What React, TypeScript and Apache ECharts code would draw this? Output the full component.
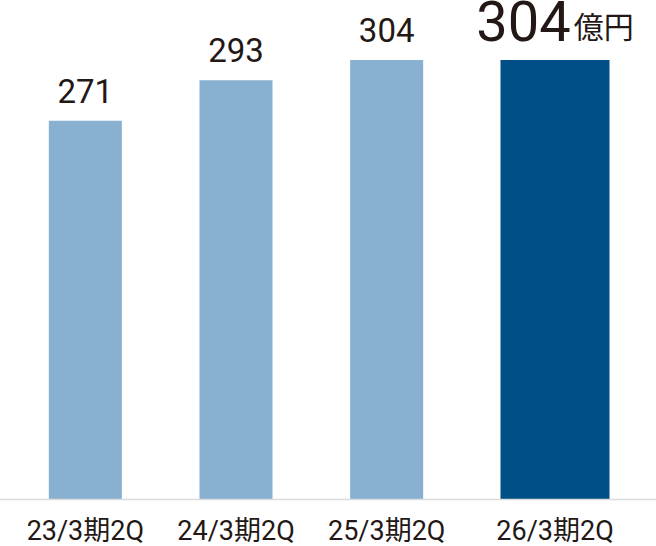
import * as echarts from "echarts";
import { useEffect, useRef } from "react";

const pastCategories = ["23/3期2Q", "24/3期2Q", "25/3期2Q"];
const pastValues = [271, 293, 304];
const currentCategories = ["26/3期2Q"];
const currentValues = [304];
const unitLabel = "億円";

const FONT = "Roboto, 'Noto Sans CJK JP', sans-serif";
const TEXT_COLOR = "#231815";

const App = () => {
  const chartRef = useRef<HTMLDivElement>(null);

  useEffect(() => {
    document.body.style.margin = "0";
    if (!chartRef.current) return;

    const myChart = echarts.init(chartRef.current, undefined, { renderer: "svg" });

    const xLabel = {
      interval: 0,
      fontSize: 27,
      color: TEXT_COLOR,
      fontFamily: FONT,
      margin: 18,
    };

    const option: echarts.EChartsCoreOption = {
      animation: false,
      grid: [
        { left: 10, width: 452, top: 60, bottom: 46.5 },
        { left: 480, width: 150, top: 60, bottom: 46.5 },
      ],
      xAxis: [
        {
          type: "category",
          gridIndex: 0,
          data: pastCategories,
          axisLine: { show: false },
          axisTick: { show: false },
          axisLabel: xLabel,
        },
        {
          type: "category",
          gridIndex: 1,
          data: currentCategories,
          axisLine: { show: false },
          axisTick: { show: false },
          axisLabel: xLabel,
        },
      ],
      yAxis: [
        { type: "value", gridIndex: 0, min: 65, max: 304, show: false },
        { type: "value", gridIndex: 1, min: 65, max: 304, show: false },
      ],
      graphic: [
        {
          type: "line",
          shape: { x1: 0, y1: 499.5, x2: 656, y2: 499.5 },
          style: { stroke: "#dcdcdc", lineWidth: 1.5 },
          z: 10,
        },
      ],
      series: [
        {
          type: "bar",
          xAxisIndex: 0,
          yAxisIndex: 0,
          data: pastValues,
          barWidth: 73,
          itemStyle: { color: "#87b0d1" },
          label: {
            show: true,
            position: "top",
            distance: 13,
            fontSize: 33,
            color: TEXT_COLOR,
            fontFamily: FONT,
          },
        },
        {
          type: "bar",
          xAxisIndex: 1,
          yAxisIndex: 1,
          data: currentValues,
          barWidth: 109,
          itemStyle: { color: "#004f86" },
          label: {
            show: true,
            position: "top",
            distance: 10,
            formatter: (p: any) => `{a|${p.value}}{b|${unitLabel}}`,
            rich: {
              a: {
                fontSize: 56,
                lineHeight: 42,
                color: TEXT_COLOR,
                fontFamily: FONT,
                verticalAlign: "bottom",
              },
              b: {
                fontSize: 30,
                lineHeight: 30,
                color: TEXT_COLOR,
                fontFamily: FONT,
                verticalAlign: "bottom",
                padding: [0, 0, 8, 3],
              },
            },
          },
        },
      ],
    };

    myChart.setOption(option);

    return () => {
      myChart.dispose();
    };
  }, []);

  return <div ref={chartRef} style={{ width: "656px", height: "546px" }} />;
};

export default App;
